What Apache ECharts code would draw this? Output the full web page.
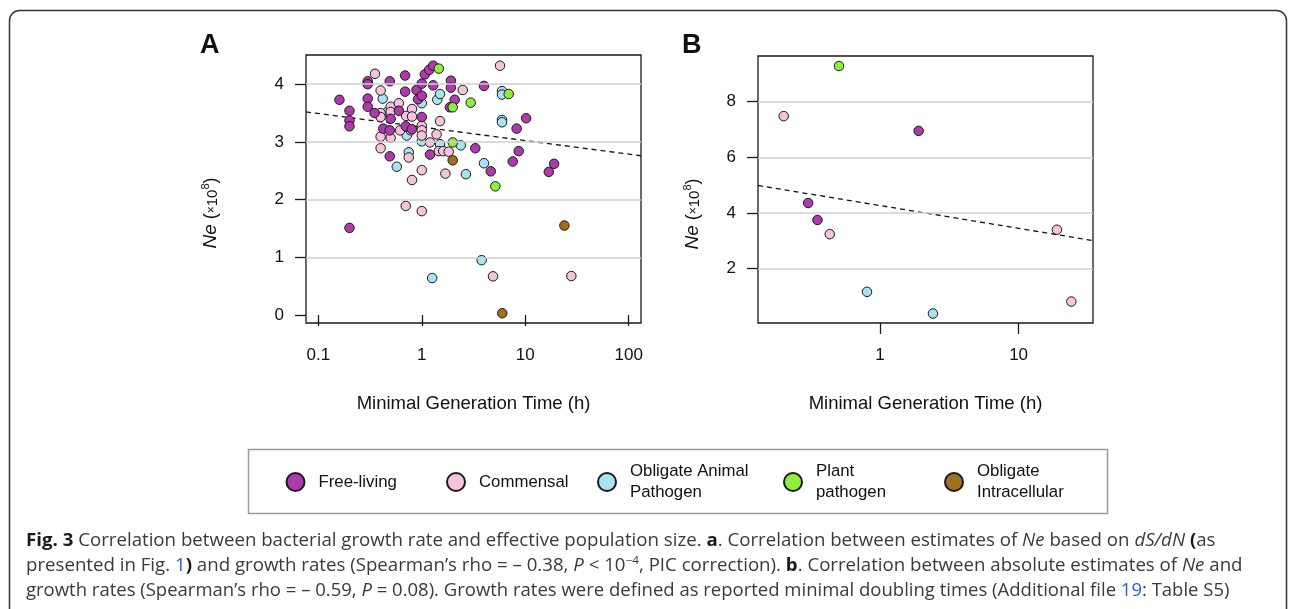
<!DOCTYPE html>
<html>
<head>
<meta charset="utf-8">
<title>Fig. 3 - growth rate vs Ne</title>
<script src="https://cdn.jsdelivr.net/npm/echarts@6/dist/echarts.min.js"></script>
<style>
  html, body { margin: 0; padding: 0; background: #fff; }
  #wrap { position: relative; width: 1290px; height: 609px; overflow: hidden; }
  #chart { position: absolute; left: 0; top: 0; width: 1290px; height: 609px; }
  .cap {
    position: absolute; left: 25.5px; height: 25px; line-height: 25px;
    white-space: nowrap; font-family: 'Open Sans', sans-serif; font-size: 17.5px;
    color: #3a3a3a; transform-origin: 0 0;
  }
  .cap b { color: #1a1a1a; }
  .cap .lnk { color: #2a5bd7; }
  .cap .sup { font-size: 11px; position: relative; top: -7px; }
</style>
</head>
<body>
<div id="wrap">
  <div id="chart"></div>
  <div class="cap" id="cap1" style="top:527px"><b>Fig. 3</b> Correlation between bacterial growth rate and effective population size. <b>a</b>. Correlation between estimates of <i>Ne</i> based on <i>dS/dN</i> <b>(</b>as</div>
  <div class="cap" id="cap2" style="top:552px">presented in Fig. <span class="lnk">1</span><b>)</b> and growth rates (Spearman’s rho = – 0.38, <i>P</i> &lt; 10<span class="sup">−4</span>, PIC correction). <b>b</b>. Correlation between absolute estimates of <i>Ne</i> and</div>
  <div class="cap" id="cap3" style="top:577px">growth rates (Spearman’s rho = – 0.59, <i>P</i> = 0.08). Growth rates were defined as reported minimal doubling times (Additional file <span class="lnk">19</span>: Table S5)</div>
</div>
<script>
// ---- 数据 ----
// 类别
const catKeys = ['Free-living', 'Commensal', 'Obligate Animal Pathogen', 'Plant pathogen', 'Obligate Intracellular'];
const catLabels = ['Free-living', 'Commensal', 'Obligate Animal\nPathogen', 'Plant\npathogen', 'Obligate\nIntracellular'];

// Panel A: [minimal generation time (h), Ne (x10^8)]
const freeLivingA = [
  [0.16, 3.73], [0.20, 3.54], [0.20, 3.37], [0.20, 3.27], [0.30, 4.05], [0.30, 4.00], [0.30, 3.75],
  [0.30, 3.61], [0.35, 3.50], [0.49, 4.05], [0.69, 4.15], [0.50, 3.40], [0.60, 3.54], [0.69, 3.87],
  [0.425, 3.23], [0.49, 3.20], [0.49, 2.75], [0.70, 3.27], [0.80, 3.22], [0.89, 3.90], [0.92, 3.74],
  [1.0, 4.01], [1.0, 3.80], [1.0, 3.43], [1.07, 4.17], [1.18, 4.25], [1.29, 4.32], [1.29, 3.98],
  [1.20, 2.78], [1.91, 4.06], [1.91, 3.94], [2.08, 3.73], [1.87, 3.60], [3.29, 2.89], [3.99, 3.97],
  [10.2, 3.41], [8.26, 3.23], [8.65, 2.84], [7.57, 2.66], [4.64, 2.49], [19.0, 2.62], [16.9, 2.48],
  [0.20, 1.51]
];
const commensalA = [
  [0.353, 4.18], [0.40, 3.89], [0.40, 3.50], [0.40, 3.43], [0.50, 3.61], [0.50, 3.52], [0.60, 3.67],
  [0.40, 3.09], [0.50, 3.07], [0.40, 2.89], [0.705, 3.45], [0.617, 3.20], [0.748, 2.73], [0.805, 3.57],
  [0.805, 3.44], [0.805, 2.34], [0.78, 3.20], [1.0, 3.28], [1.0, 3.20], [1.0, 3.11], [1.0, 2.51],
  [1.20, 2.99], [1.50, 3.36], [1.39, 3.13], [1.46, 2.84], [1.61, 2.84], [1.82, 2.83], [1.69, 2.45],
  [2.49, 3.90], [5.70, 4.32], [0.70, 1.89], [1.0, 1.80], [4.88, 0.67], [27.9, 0.675]
];
const animalPathA = [
  [0.419, 3.75], [0.47, 3.53], [0.573, 2.57], [0.716, 3.11], [0.748, 2.82], [1.0, 3.67], [1.0, 3.01],
  [1.41, 3.73], [1.50, 3.83], [1.50, 2.96], [2.38, 2.94], [2.67, 2.44], [5.96, 3.88], [5.96, 3.82],
  [5.96, 3.38], [5.96, 3.34], [3.99, 2.63], [3.79, 0.95], [1.26, 0.64]
];
const plantPathA = [[1.46, 4.27], [1.99, 3.60], [2.97, 3.68], [1.99, 2.99], [6.92, 3.83], [5.14, 2.23]];
const intracellularA = [[1.99, 2.68], [23.9, 1.55], [6.0, 0.03]];
const fitA = [[0.076, 3.52], [131.5, 2.76]];

// Panel B
const freeLivingB = [[1.90, 6.95], [0.303, 4.36], [0.354, 3.75]];
const commensalB = [[0.202, 7.48], [0.434, 3.24], [18.9, 3.40], [24.0, 0.82]];
const animalPathB = [[0.806, 1.17], [2.41, 0.39]];
const plantPathB = [[0.506, 9.28]];
const intracellularB = [];
const fitB = [[0.1318, 4.99], [34.4, 3.01]];

// 刻度
const xTicksA = [0.1, 1, 10, 100];
const yTicksA = [0, 1, 2, 3, 4];
const gridLinesA = [1, 2, 3, 4];
const xTicksB = [1, 10];
const yTicksB = [2, 4, 6, 8];
const gridLinesB = [2, 4, 6, 8];

// ---- 样式 ----
const FONT = 'Liberation Sans';
const catColors = ['#AE3BAB', '#F6C3DD', '#A9E3F3', '#8FF03C', '#A0701E'];
const legendLeft = [285.5, 446, 597, 783, 944];
const ink = '#1a1a1a';

const chart = echarts.init(document.getElementById('chart'));

const scatter = (key, data, idx) => ({
  name: key,
  type: 'scatter',
  xAxisIndex: idx,
  yAxisIndex: idx,
  data: data,
  symbolSize: 9.5,
  itemStyle: {
    color: catColors[catKeys.indexOf(key)],
    borderColor: ink,
    borderWidth: 1,
    opacity: 1
  },
  emphasis: { disabled: true },
  silent: true,
  z: 3
});

const gridLineSeries = (vals, idx) => ({
  type: 'line',
  xAxisIndex: idx,
  yAxisIndex: idx,
  data: [],
  silent: true,
  z: 1,
  markLine: {
    silent: true,
    symbol: 'none',
    label: { show: false },
    lineStyle: { color: '#cfcfcf', width: 1.5, type: 'solid' },
    data: vals.map(v => ({ yAxis: v }))
  }
});

const fitSeries = (data, idx) => ({
  type: 'line',
  xAxisIndex: idx,
  yAxisIndex: idx,
  data: data,
  symbol: 'none',
  silent: true,
  z: 2,
  lineStyle: { color: '#111', width: 1.3, type: [5, 4] }
});

const tickStyle = { length: 11, lineStyle: { color: ink, width: 1.3 } };
const labelStyle = { fontSize: 17, color: '#111', fontFamily: FONT };

const xAxisCfg = (idx, min, max, ticks) => ({
  type: 'log',
  logBase: 10,
  gridIndex: idx,
  min: min,
  max: max,
  axisLine: { show: false },
  axisTick: Object.assign({ customValues: ticks }, tickStyle),
  axisLabel: Object.assign({ customValues: ticks, margin: 24, formatter: v => String(v) }, labelStyle),
  splitLine: { show: false },
  name: 'Minimal Generation Time (h)',
  nameLocation: 'middle',
  nameGap: 71,
  nameTextStyle: { fontSize: 18.5, color: '#111', fontFamily: FONT }
});

const yAxisCfg = (idx, min, max, ticks) => ({
  type: 'value',
  gridIndex: idx,
  min: min,
  max: max,
  axisLine: { show: false },
  axisTick: Object.assign({ customValues: ticks }, tickStyle),
  axisLabel: Object.assign({ customValues: ticks, margin: 22 }, labelStyle),
  splitLine: { show: false }
});

// 纵轴标题: Ne (×10^8)
const yName = (x, y) => ({
  type: 'text',
  x: x,
  y: y,
  rotation: Math.PI / 2,
  silent: true,
  style: {
    text: '{i|Ne} {p|(}{m|×}{t|10}{s|8}{p|)}',
    fontSize: 18,
    fontFamily: FONT,
    fill: '#111',
    align: 'center',
    verticalAlign: 'middle',
    rich: {
      i: { fontStyle: 'italic', fontSize: 19, fontFamily: FONT, lineHeight: 20, verticalAlign: 'bottom' },
      p: { fontSize: 18, fontFamily: FONT, lineHeight: 20, verticalAlign: 'bottom' },
      m: { fontSize: 12, fontFamily: FONT, lineHeight: 20, verticalAlign: 'bottom', padding: [0, 0, 2, 0] },
      t: { fontSize: 15, fontFamily: FONT, lineHeight: 20, verticalAlign: 'bottom' },
      s: { fontSize: 11, fontFamily: FONT, lineHeight: 20, verticalAlign: 'top' }
    }
  }
});

const option = {
  animation: false,
  backgroundColor: '#fff',
  textStyle: { fontFamily: FONT },
  grid: [
    { left: 306, top: 55, width: 335, height: 268, show: true, borderColor: ink, borderWidth: 1.3, backgroundColor: 'transparent', outerBoundsMode: 'none' },
    { left: 758, top: 56, width: 335, height: 267, show: true, borderColor: ink, borderWidth: 1.3, backgroundColor: 'transparent', outerBoundsMode: 'none' }
  ],
  xAxis: [
    xAxisCfg(0, 0.0760, 131.5, xTicksA),
    xAxisCfg(1, 0.1318, 34.4, xTicksB)
  ],
  yAxis: [
    yAxisCfg(0, -0.139, 4.506, yTicksA),
    yAxisCfg(1, 0.05, 9.64, yTicksB)
  ],
  legend: catKeys.map((k, i) => ({
    data: [k],
    left: legendLeft[i],
    top: catLabels[i].indexOf('\n') >= 0 ? 461 : 471.5,
    padding: 0,
    itemWidth: 36,
    itemHeight: 18,
    icon: 'circle',
    selectedMode: false,
    formatter: () => catLabels[i],
    textStyle: { fontSize: 16.8, lineHeight: 21, color: '#111', fontFamily: FONT }
  })),
  graphic: [
    { type: 'rect', silent: true, z: -10, shape: { x: 9.5, y: 10.5, width: 1277, height: 700, r: 10 }, style: { fill: 'none', stroke: '#333', lineWidth: 1.5 } },
    { type: 'rect', silent: true, shape: { x: 248.5, y: 449.5, width: 859, height: 64 }, style: { fill: 'none', stroke: '#9a9a9a', lineWidth: 1.5 } },
    { type: 'text', silent: true, x: 200, y: 32, style: { text: 'A', font: 'bold 27px "Liberation Sans"', fill: '#111', verticalAlign: 'top' } },
    { type: 'text', silent: true, x: 682, y: 32, style: { text: 'B', font: 'bold 27px "Liberation Sans"', fill: '#111', verticalAlign: 'top' } },
    yName(210, 213),
    yName(692, 214)
  ],
  series: [
    gridLineSeries(gridLinesA, 0),
    fitSeries(fitA, 0),
    scatter('Obligate Animal Pathogen', animalPathA, 0),
    scatter('Commensal', commensalA, 0),
    scatter('Free-living', freeLivingA, 0),
    scatter('Plant pathogen', plantPathA, 0),
    scatter('Obligate Intracellular', intracellularA, 0),

    gridLineSeries(gridLinesB, 1),
    fitSeries(fitB, 1),
    scatter('Obligate Animal Pathogen', animalPathB, 1),
    scatter('Commensal', commensalB, 1),
    scatter('Free-living', freeLivingB, 1),
    scatter('Plant pathogen', plantPathB, 1),
    scatter('Obligate Intracellular', intracellularB, 1)
  ]
};

chart.setOption(option);

// 图注每行拉伸到原图宽度
const capEnds = { cap1: 1215, cap2: 1242, cap3: 1229 };
Object.keys(capEnds).forEach(id => {
  const el = document.getElementById(id);
  const w = el.getBoundingClientRect().width;
  if (w > 0) el.style.transform = 'scaleX(' + ((capEnds[id] - 25.5) / w) + ')';
});
</script>
</body>
</html>
